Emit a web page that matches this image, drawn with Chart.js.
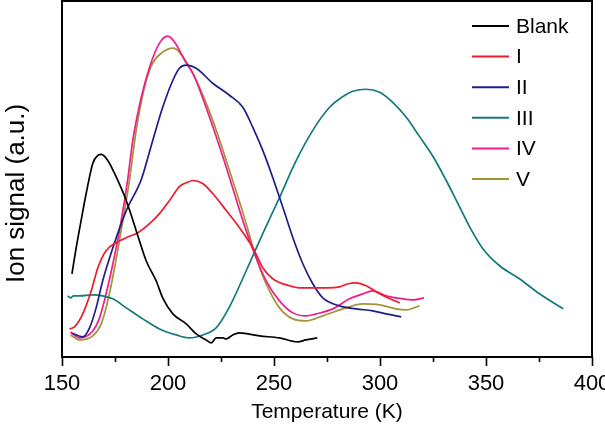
<!DOCTYPE html>
<html lang="en">
  <head>
    <meta charset="UTF-8" />
    <title>Ion signal vs temperature</title>
    <script src="https://cdn.jsdelivr.net/npm/chart.js"></script>
    <style>
      body { margin: 0; background: #fff; }
      #wrap { width: 605px; height: 442px; }
    </style>
  </head>
  <body>
    <div id="wrap"><canvas id="tpd" width="605" height="442"></canvas></div>
    <script>
      // temperature (K) and ion signal (a.u.)
      const blankT = [154.7, 156.7, 159, 161.4, 164.5, 166.9, 168.5, 171.6, 174.8, 180.3, 185, 189.7, 194.4, 197.5, 202.3, 208.6, 213.3, 218, 220.4, 222.7, 225.9, 227.4, 230.6, 233.7, 243.2, 252.6, 261.2, 265, 270.4];
      const blankY = [83, 109, 136, 163, 193, 201, 202, 196, 183, 156, 126, 96, 76, 59, 43, 33, 23, 17, 14, 19, 19, 18, 22, 24, 21, 19, 15, 17, 19];

      const s1T = [153.5, 155.9, 159.8, 163.8, 166.9, 170.8, 175.6, 180.3, 185.8, 191.3, 196, 200.7, 205.4, 209, 211.7, 216.4, 221.1, 227.5, 233.7, 240, 244.7, 249.4, 257.3, 262, 268.3, 275.4, 280.9, 285, 288.8, 293.5, 299.8, 304.7, 309.3];
      const s1Y = [28, 30, 43, 66, 89, 106, 114, 119, 124, 133, 143, 156, 170, 174, 176, 173, 163, 146, 129, 109, 89, 78, 71, 69, 69, 69, 70, 73, 74, 71, 63, 58, 54];

      const s2T = [154.5, 159.8, 163, 166.1, 169.2, 174, 180.3, 187.4, 192.8, 197.5, 202.3, 205.4, 208.6, 213.3, 221.1, 229, 235.3, 240, 244.7, 249.4, 254.2, 258.9, 263.6, 268.3, 273, 280.9, 288.8, 296.6, 302.9, 310];
      const s2Y = [24, 20, 29, 49, 76, 109, 146, 177, 216, 249, 276, 288, 291, 288, 273, 261, 249, 229, 206, 179, 149, 119, 93, 73, 59, 51, 48, 46, 43, 40];

      const s3T = [152.7, 154, 155.5, 158.3, 164.5, 169.2, 174, 180.3, 188.1, 196, 203.9, 210.1, 216.4, 222.7, 229, 236.9, 244.7, 252.6, 260.5, 268.3, 276.2, 282, 287.2, 293.5, 299.8, 306, 312.4, 318.6, 325, 331, 337, 343, 348.5, 356.4, 365.8, 375.2, 386.5];
      const s3Y = [61, 59, 61, 61, 62, 61, 58, 49, 38, 28, 22, 19, 22, 29, 50, 86, 123, 159, 196, 226, 249, 259, 265, 267, 264, 254, 239, 220, 200, 177, 152, 127, 108, 91, 78, 63, 48];

      const s4T = [154, 158.3, 164.5, 167.7, 170.8, 174, 177.1, 181, 183.4, 187.4, 191.3, 196, 199.9, 203.1, 208.6, 211.7, 219.6, 227.5, 235.3, 240.8, 246.3, 252.6, 258.9, 265.2, 269.9, 277.7, 285.6, 291.9, 296.6, 302.9, 310.8, 316, 320.8];
      const s4Y = [25, 19, 26, 39, 63, 93, 126, 177, 216, 259, 289, 313, 320, 314, 293, 283, 239, 189, 136, 103, 76, 56, 44, 41, 43, 48, 58, 63, 66, 61, 58, 57, 59];

      const s5T = [154, 158.3, 164.5, 168.5, 171.6, 174.8, 177.9, 181.8, 185, 188.9, 192.8, 197.5, 202.3, 205.4, 213.3, 221.1, 229, 236.9, 241.6, 246.3, 252.6, 258.9, 265.2, 273, 282.5, 291.9, 299.8, 307.6, 312.4, 318.6];
      const s5Y = [22, 17, 21, 33, 56, 89, 126, 176, 226, 269, 293, 304, 308, 304, 276, 236, 186, 133, 99, 73, 49, 38, 36, 41, 48, 53, 52, 48, 47, 51];

      const seriesNames = ["Blank", "I", "II", "III", "IV", "V"];
      const seriesColors = ["#000000", "#ee1b2e", "#1e1e86", "#13797c", "#f01d88", "#a3933a"];
      const xTicks = [150, 200, 250, 300, 350, 400];

      const allT = [blankT, s1T, s2T, s3T, s4T, s5T];
      const allY = [blankY, s1Y, s2Y, s3Y, s4Y, s5Y];

      const sans = "'Liberation Sans', Arial, sans-serif";

      // box around the plot, tick marks and the legend inside the plot
      const framePlugin = {
        id: "frame",
        afterDraw(chart) {
          const { ctx, chartArea: a } = chart;
          const xs = chart.scales.x;
          ctx.save();
          ctx.strokeStyle = "#000";
          ctx.lineWidth = 2;
          ctx.strokeRect(a.left, a.top, a.right - a.left, a.bottom - a.top);
          ctx.lineWidth = 1.6;
          for (let v = xs.min; v <= xs.max; v += 25) {
            const px = Math.round(xs.getPixelForValue(v)) + 0.5;
            const len = xTicks.includes(v) ? 9 : 5;
            ctx.beginPath();
            ctx.moveTo(px, a.bottom);
            ctx.lineTo(px, a.bottom + len);
            ctx.stroke();
          }
          // legend
          ctx.font = "21px " + sans;
          ctx.textBaseline = "middle";
          ctx.textAlign = "left";
          chart.data.datasets.forEach((ds, i) => {
            const y = 26 + i * 30.6;
            ctx.strokeStyle = ds.borderColor;
            ctx.lineWidth = 2;
            ctx.beginPath();
            ctx.moveTo(472, y);
            ctx.lineTo(509, y);
            ctx.stroke();
            ctx.fillStyle = "#000";
            ctx.fillText(ds.label, 516, y + 1);
          });
          ctx.restore();
        },
      };

      new Chart(document.getElementById("tpd"), {
        type: "line",
        data: {
          datasets: seriesNames.map((name, i) => ({
            label: name,
            data: allT[i].map((t, j) => ({ x: t, y: allY[i][j] })),
            borderColor: seriesColors[i],
            borderWidth: 1.7,
            pointRadius: 0,
            cubicInterpolationMode: "monotone",
          })),
        },
        options: {
          responsive: false,
          animation: false,
          layout: { padding: { top: 1, right: 13, left: 0, bottom: 0 } },
          plugins: { legend: { display: false }, tooltip: { enabled: false } },
          scales: {
            x: {
              type: "linear",
              min: 150,
              max: 400,
              grid: { display: false, drawTicks: true, tickLength: 9 },
              border: { display: false },
              ticks: {
                stepSize: 25,
                autoSkip: false,
                maxRotation: 0,
                padding: 5,
                color: "#000",
                font: { family: sans, size: 22 },
                callback: (v) => (xTicks.includes(v) ? v : ""),
              },
              title: {
                display: true,
                text: "Temperature (K)",
                color: "#000",
                font: { family: sans, size: 21 },
                padding: { top: 0, bottom: 17 },
              },
              afterFit: (s) => {
                s.height = 85;
                s.paddingLeft = 0;
                s.paddingRight = 0;
              },
            },
            y: {
              min: 0,
              max: 355,
              grid: { display: false },
              border: { display: false },
              ticks: { display: false },
              title: {
                display: true,
                text: "Ion signal (a.u.)    ",
                color: "#000",
                font: { family: sans, size: 26 },
                padding: { top: 1, bottom: 0 },
              },
              afterFit: (s) => { s.width = 62; },
            },
          },
        },
        plugins: [framePlugin],
      });
    </script>
  </body>
</html>
